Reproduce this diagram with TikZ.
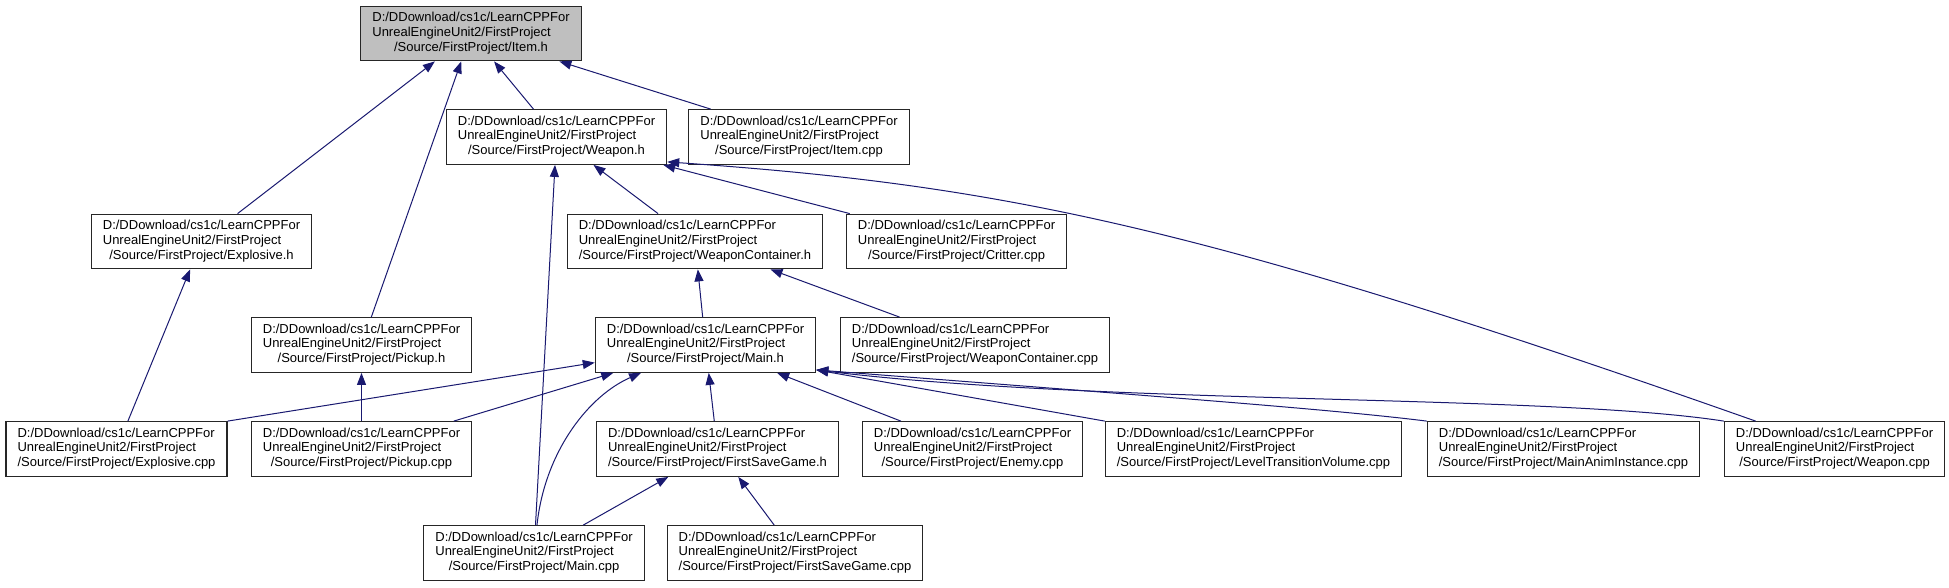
\documentclass[tikz,border=0pt]{standalone}
\usepackage{fontspec}
\setmainfont{Liberation Sans}
\usepackage{xcolor}
\usepackage{tikz}
\usetikzlibrary{arrows.meta}

\definecolor{edgeblue}{RGB}{25,25,112}
\definecolor{rootgray}{RGB}{191,191,191}
\newcommand{\srcpath}[1]{\begin{tabular}{@{}l@{}}D:/DDownload/cs1c/LearnCPPFor\\UnrealEngineUnit2/FirstProject\\\multicolumn{1}{@{}c@{}}{/Source/FirstProject/#1}\end{tabular}}

\begin{document}
\begin{tikzpicture}[x=1pt, y=-1pt,
  file/.style={draw=black!85, line width=1.2pt, fill=white, inner xsep=11.5pt, inner ysep=3pt,
    minimum height=54.6pt, font=\fontsize{13}{14.7}\selectfont},
  dep/.style={draw=edgeblue, line width=1pt, -{Triangle[length=12pt,width=9pt]}}]
  \useasboundingbox[fill=white] (0,0) rectangle (1949,587);
  \node[file, fill=rootgray] (item_h) at (471,33.5) {\srcpath{Item.h}};
  \node[file] (weapon_h) at (556.5,137) {\srcpath{Weapon.h}};
  \node[file] (item_cpp) at (799,137) {\srcpath{Item.cpp}};
  \node[file] (explosive_h) at (201.5,241.5) {\srcpath{Explosive.h}};
  \node[file] (wcont_h) at (695,241.5) {\srcpath{WeaponContainer.h}};
  \node[file] (critter_cpp) at (956.5,241.5) {\srcpath{Critter.cpp}};
  \node[file] (pickup_h) at (361.5,345) {\srcpath{Pickup.h}};
  \node[file] (main_h) at (705.5,345) {\srcpath{Main.h}};
  \node[file] (wcont_cpp) at (975,345) {\srcpath{WeaponContainer.cpp}};
  \node[file] (explosive_cpp) at (116.5,449) {\srcpath{Explosive.cpp}};
  \node[file] (pickup_cpp) at (361.5,449) {\srcpath{Pickup.cpp}};
  \node[file] (fsg_h) at (717.5,449) {\srcpath{FirstSaveGame.h}};
  \node[file] (enemy_cpp) at (972.5,449) {\srcpath{Enemy.cpp}};
  \node[file] (ltv_cpp) at (1253.5,449) {\srcpath{LevelTransitionVolume.cpp}};
  \node[file] (anim_cpp) at (1563.5,449) {\srcpath{MainAnimInstance.cpp}};
  \node[file] (weapon_cpp) at (1834.5,449) {\srcpath{Weapon.cpp}};
  \node[file] (main_cpp) at (534,553) {\srcpath{Main.cpp}};
  \node[file] (fsg_cpp) at (795,553) {\srcpath{FirstSaveGame.cpp}};

  \draw[dep] (explosive_h) -- (item_h);
  \draw[dep] (pickup_h) -- (item_h);
  \draw[dep] (weapon_h) -- (item_h);
  \draw[dep] (item_cpp) -- (item_h);
  \draw[dep] (main_cpp) -- (weapon_h);
  \draw[dep] (wcont_h) -- (weapon_h);
  \draw[dep] (critter_cpp) -- (weapon_h);
  \draw[dep] (weapon_cpp) .. controls (1200,225) and (1000,185) .. ([yshift=3pt]weapon_h.south east);
  \draw[dep] (main_h) -- (wcont_h);
  \draw[dep] (wcont_cpp) -- (wcont_h);
  \draw[dep] (explosive_cpp) -- (explosive_h);
  \draw[dep] (pickup_cpp) -- (pickup_h);
  \draw[dep] (explosive_cpp.north east) -- (main_h);
  \draw[dep] (pickup_cpp) -- (main_h);
  \draw[dep] (main_cpp) .. controls (545,450) and (590,395) .. (main_h);
  \draw[dep] (fsg_h) -- (main_h);
  \draw[dep] (enemy_cpp) -- (main_h);
  \draw[dep] (ltv_cpp.north west) -- ([yshift=3pt]main_h.south east);
  \draw[dep] (anim_cpp.north west) .. controls (1330,409) and (1150,396) .. ([yshift=3pt]main_h.south east);
  \draw[dep] (weapon_cpp.north west) .. controls (1550,394) and (1100,405) .. ([yshift=3pt]main_h.south east);
  \draw[dep] (main_cpp) -- (fsg_h);
  \draw[dep] (fsg_cpp) -- (fsg_h);
\end{tikzpicture}
\end{document}
